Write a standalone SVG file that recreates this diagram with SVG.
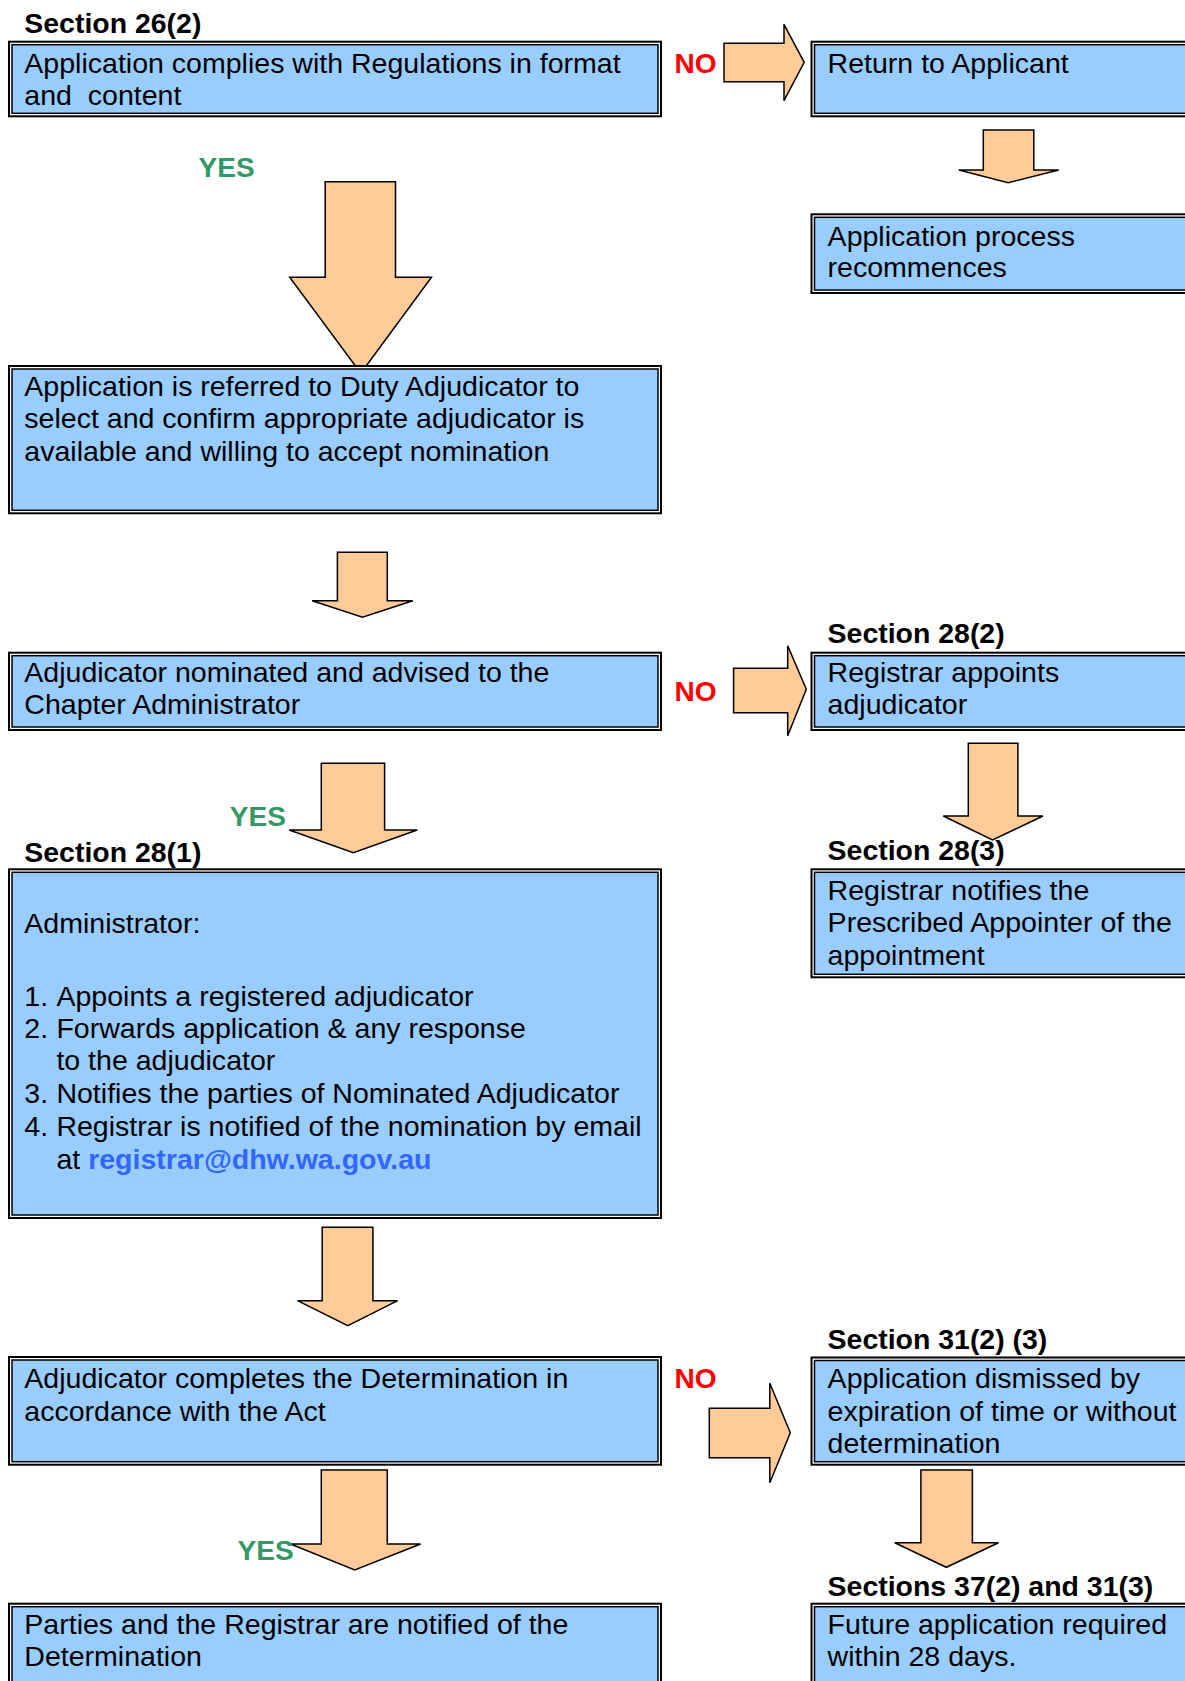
<svg xmlns="http://www.w3.org/2000/svg" width="1185" height="1681" viewBox="0 0 1185 1681">
<style>
.bo{fill:#FFFFFF;stroke:#000000;stroke-width:2}
.bi{fill:#99CCFF;stroke:#000000;stroke-width:1.5}
.ar{fill:#FFCC99;stroke:#000000;stroke-width:1.5;stroke-linejoin:miter}
.t{font-family:"Liberation Sans",Arial,sans-serif;font-size:27.5px;fill:#000000;white-space:pre}
.h{font-family:"Liberation Sans",Arial,sans-serif;font-size:27.5px;font-weight:bold;fill:#000000}
.yes{font-family:"Liberation Sans",Arial,sans-serif;font-size:27.5px;font-weight:bold;fill:#339966}
.no{font-family:"Liberation Sans",Arial,sans-serif;font-size:27.5px;font-weight:bold;fill:#FF0000}
.em{font-weight:bold;fill:#3366FF}
</style>
<rect width="1185" height="1681" fill="#FFFFFF"/>

<g id="connectors">
  <path class="ar" d="M325.2,181.7 H395.5 V277.3 H431.5 L360.8,373.3 L289.7,277.3 H325.2 Z"/>
  <path class="ar" d="M337.4,552.3 H387.3 V600.7 H412.8 L362.5,617.3 L312.2,600.7 H337.4 Z"/>
  <path class="ar" d="M321.3,763.3 H384.6 V830 H417.2 L353.4,852.7 L289.2,830 H321.3 Z"/>
  <path class="ar" d="M322.2,1227.3 H372.9 V1300.7 H397.7 L347.8,1325.7 L297.5,1300.7 H322.2 Z"/>
  <path class="ar" d="M321.3,1470 H387.3 V1544 H420.6 L354.7,1570 L290.5,1544 H321.3 Z"/>
  <path class="ar" d="M983.3,130 H1033.8 V170 H1058.7 L1008.2,182.7 L958.8,170 H983.3 Z"/>
  <path class="ar" d="M968.3,743.3 H1017.9 V816 H1042.9 L992.5,840 L943.3,816 H968.3 Z"/>
  <path class="ar" d="M920.9,1470 H972.4 V1542.7 H998.5 L946.3,1567.3 L894.8,1542.7 H920.9 Z"/>
  <path class="ar" d="M724,43.3 H784 V24.3 L804.2,62.3 L784,100.7 V81.7 H724 Z"/>
  <path class="ar" d="M733.6,668.3 H787.7 V645.7 L806.3,689.3 L787.7,735.7 V712.7 H733.6 Z"/>
  <path class="ar" d="M709.3,1408.3 H769.8 V1383.3 L790.3,1432.7 L769.8,1482.7 V1457.7 H709.3 Z"/>
  <text class="yes" transform="matrix(1.02 0 0 1 198.6 176.7)">YES</text>
  <text class="yes" transform="matrix(1.02 0 0 1 229.8 826)">YES</text>
  <text class="yes" transform="matrix(1.02 0 0 1 237.6 1560)">YES</text>
  <text class="no" transform="matrix(1.02 0 0 1 674.6 72.7)">NO</text>
  <text class="no" transform="matrix(1.02 0 0 1 674.6 701)">NO</text>
  <text class="no" transform="matrix(1.02 0 0 1 674.6 1388.3)">NO</text>
</g>

<g id="node-complies">
  <text class="h" transform="matrix(1.035 0 0 1 24.3 33.3)">Section 26(2)</text>
  <rect class="bo" x="9" y="41.7" width="652" height="74.6"/>
  <rect class="bi" x="12" y="44.7" width="646" height="68.6"/>
  <text class="t" transform="matrix(1.038 0 0 1 24.3 72.7)">Application complies with Regulations in format</text>
  <text class="t" transform="matrix(1.038 0 0 1 24.3 105)">and  content</text>
</g>

<g id="node-return">
  <rect class="bo" x="811.5" y="41.7" width="400" height="74.6"/>
  <rect class="bi" x="814.5" y="44.7" width="394" height="68.6"/>
  <text class="t" transform="matrix(1.038 0 0 1 827.6 72.7)">Return to Applicant</text>
</g>

<g id="node-recommences">
  <rect class="bo" x="811.5" y="214.3" width="400" height="78.7"/>
  <rect class="bi" x="814.5" y="217.3" width="394" height="72.7"/>
  <text class="t" transform="matrix(1.038 0 0 1 827.6 246)">Application process</text>
  <text class="t" transform="matrix(1.038 0 0 1 827.6 277.3)">recommences</text>
</g>

<g id="node-duty">
  <rect class="bo" x="9" y="366" width="652" height="147.3"/>
  <rect class="bi" x="12" y="369" width="646" height="141.3"/>
  <text class="t" transform="matrix(1.038 0 0 1 24.3 396)">Application is referred to Duty Adjudicator to</text>
  <text class="t" transform="matrix(1.038 0 0 1 24.3 428.3)">select and confirm appropriate adjudicator is</text>
  <text class="t" transform="matrix(1.038 0 0 1 24.3 460.7)">available and willing to accept nomination</text>
</g>

<g id="node-nominated">
  <rect class="bo" x="9" y="652.7" width="652" height="77.3"/>
  <rect class="bi" x="12" y="655.7" width="646" height="71.3"/>
  <text class="t" transform="matrix(1.038 0 0 1 24.3 681.7)">Adjudicator nominated and advised to the</text>
  <text class="t" transform="matrix(1.038 0 0 1 24.3 714)">Chapter Administrator</text>
</g>

<g id="node-registrar-appoints">
  <text class="h" transform="matrix(1.035 0 0 1 827.6 643.3)">Section 28(2)</text>
  <rect class="bo" x="811.5" y="652.7" width="400" height="77.3"/>
  <rect class="bi" x="814.5" y="655.7" width="394" height="71.3"/>
  <text class="t" transform="matrix(1.038 0 0 1 827.6 681.7)">Registrar appoints</text>
  <text class="t" transform="matrix(1.038 0 0 1 827.6 714.3)">adjudicator</text>
</g>

<g id="node-registrar-notifies">
  <text class="h" transform="matrix(1.035 0 0 1 827.6 860)">Section 28(3)</text>
  <rect class="bo" x="811.5" y="869.3" width="400" height="108"/>
  <rect class="bi" x="814.5" y="872.3" width="394" height="102"/>
  <text class="t" transform="matrix(1.038 0 0 1 827.6 900)">Registrar notifies the</text>
  <text class="t" transform="matrix(1.038 0 0 1 827.6 932.3)">Prescribed Appointer of the</text>
  <text class="t" transform="matrix(1.038 0 0 1 827.6 965)">appointment</text>
</g>

<g id="node-administrator">
  <text class="h" transform="matrix(1.035 0 0 1 24.3 861.7)">Section 28(1)</text>
  <rect class="bo" x="9" y="869.3" width="652" height="348.7"/>
  <rect class="bi" x="12" y="872.3" width="646" height="342.7"/>
  <text class="t" transform="matrix(1.038 0 0 1 24.3 933.3)">Administrator:</text>
  <text class="t" transform="matrix(1.038 0 0 1 24.3 1005.7)">1.</text>
  <text class="t" transform="matrix(1.038 0 0 1 56.4 1005.7)">Appoints a registered adjudicator</text>
  <text class="t" transform="matrix(1.038 0 0 1 24.3 1037.7)">2.</text>
  <text class="t" transform="matrix(1.038 0 0 1 56.4 1037.7)">Forwards application &amp; any response</text>
  <text class="t" transform="matrix(1.038 0 0 1 56.4 1070)">to the adjudicator</text>
  <text class="t" transform="matrix(1.038 0 0 1 24.3 1102.7)">3.</text>
  <text class="t" transform="matrix(1.038 0 0 1 56.4 1102.7)">Notifies the parties of Nominated Adjudicator</text>
  <text class="t" transform="matrix(1.038 0 0 1 24.3 1136)">4.</text>
  <text class="t" transform="matrix(1.038 0 0 1 56.4 1136)">Registrar is notified of the nomination by email</text>
  <text class="t" transform="matrix(1.038 0 0 1 56.4 1169)">at <tspan class="em">registrar@dhw.wa.gov.au</tspan></text>
</g>

<g id="node-completes">
  <rect class="bo" x="9" y="1357" width="652" height="107.7"/>
  <rect class="bi" x="12" y="1360" width="646" height="101.7"/>
  <text class="t" transform="matrix(1.038 0 0 1 24.3 1388.3)">Adjudicator completes the Determination in</text>
  <text class="t" transform="matrix(1.038 0 0 1 24.3 1421)">accordance with the Act</text>
</g>

<g id="node-dismissed">
  <text class="h" transform="matrix(1.035 0 0 1 827.6 1349.3)">Section 31(2) (3)</text>
  <rect class="bo" x="811.5" y="1357.5" width="400" height="107.2"/>
  <rect class="bi" x="814.5" y="1360.5" width="394" height="101.2"/>
  <text class="t" transform="matrix(1.038 0 0 1 827.6 1387.7)">Application dismissed by</text>
  <text class="t" transform="matrix(1.038 0 0 1 827.6 1421)">expiration of time or without</text>
  <text class="t" transform="matrix(1.038 0 0 1 827.6 1453.3)">determination</text>
</g>

<g id="node-parties">
  <rect class="bo" x="9" y="1603.7" width="652" height="120"/>
  <rect class="bi" x="12" y="1606.7" width="646" height="114"/>
  <text class="t" transform="matrix(1.038 0 0 1 24.3 1634.3)">Parties and the Registrar are notified of the</text>
  <text class="t" transform="matrix(1.038 0 0 1 24.3 1666)">Determination</text>
</g>

<g id="node-future">
  <text class="h" transform="matrix(1.035 0 0 1 827.6 1595.7)">Sections 37(2) and 31(3)</text>
  <rect class="bo" x="811.5" y="1603.7" width="400" height="120"/>
  <rect class="bi" x="814.5" y="1606.7" width="394" height="114"/>
  <text class="t" transform="matrix(1.038 0 0 1 827.6 1634.3)">Future application required</text>
  <text class="t" transform="matrix(1.038 0 0 1 827.6 1666)">within 28 days.</text>
</g>
</svg>
